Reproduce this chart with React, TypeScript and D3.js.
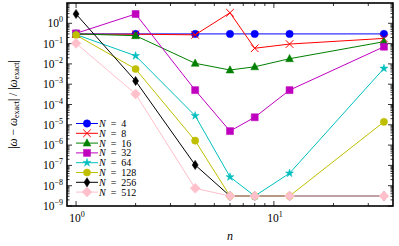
import React from 'react';
import * as d3 from 'd3';

const nValues = [1, 2, 4, 6, 8, 12, 36];

const errN4 = [0.3, 0.3, 0.3, 0.3, 0.3, 0.3, 0.3];
const errN8 = [0.29, 0.29, 0.27, 3.3, 0.059, 0.095, 0.18];
const errN16 = [0.3, 0.245, 0.0107, 0.005, 0.0072, 0.018, 0.124];
const errN32 = [0.32, 2.87, 5.1e-4, 4.9e-6, 2.35e-5, 5.1e-4, 0.07];
const errN64 = [0.28, 0.025, 2.8e-5, 2.7e-8, 3.1e-9, 4.1e-8, 0.006];
const errN128 = [0.265, 0.0056, 1.65e-6, 3.1e-9, 3.1e-9, 3.1e-9, 1.4e-5];
const errN256 = [2.87, 1.44e-3, 1.05e-7, 3.1e-9, 3.1e-9, 3.1e-9, 3.1e-9];
const errN512 = [0.103, 3.3e-4, 7.4e-9, 3.1e-9, 3.1e-9, 3.1e-9, 3.1e-9];

const seriesLabels = ['4', '8', '16', '32', '64', '128', '256', '512'];
const seriesValues = [errN4, errN8, errN16, errN32, errN64, errN128, errN256, errN512];
const seriesColors = ['#0000ff', '#ff0000', '#008000', '#bf00bf', '#00bfbf', '#bfbf00', '#000000', '#ffc0cb'];
const seriesMarkers = ['circle', 'x', 'triangle', 'square', 'star', 'hexagon', 'thindiamond', 'diamond'];

const yTickExps = [-9, -8, -7, -6, -5, -4, -3, -2, -1, 0];
const xTickExps = [0, 1];

const W = 399;
const H = 246;
const M = { left: 67, right: 393, top: 3, bottom: 206 };
const FONT = '"Liberation Serif", "DejaVu Serif", serif';

const x = d3.scaleLog().domain([0.9, 40]).range([M.left, M.right]);
const y = d3.scaleLog().domain([1e-9, 10]).range([M.bottom, M.top]);

function markerPath(kind: string): string {
    switch (kind) {
        case 'circle':
            return d3.symbol(d3.symbolCircle, Math.PI * 3.7 * 3.7)()!;
        case 'square':
            return 'M-3.5,-3.5L3.5,-3.5L3.5,3.5L-3.5,3.5Z';
        case 'triangle':
            return 'M0,-4.3L3.9,3L-3.9,3Z';
        case 'star':
            return d3.symbol(d3.symbolStar, 20)()!;
        case 'hexagon':
            return d3.symbol(d3.symbolCircle, Math.PI * 3.6 * 3.6)()!;
        case 'thindiamond':
            return 'M0,-4.6L3,0L0,4.6L-3,0Z';
        case 'diamond':
            return 'M0,-5L5,0L0,5L-5,0Z';
        default:
            return '';
    }
}

function Marker({ kind, color, cx, cy }: { kind: string; color: string; cx: number; cy: number }) {
    if (kind === 'x') {
        const s = 3.8;
        return (
            <path
                transform={`translate(${cx},${cy})`}
                d={`M${-s},${-s}L${s},${s}M${-s},${s}L${s},${-s}`}
                stroke={color}
                strokeWidth={1}
                fill="none"
            />
        );
    }
    return <path transform={`translate(${cx},${cy})`} d={markerPath(kind)} fill={color} stroke={color} strokeWidth={0.5} />;
}

function Pow10({ exp, px, py, anchor }: { exp: number; px: number; py: number; anchor: 'middle' | 'end' }) {
    const sup = exp < 0 ? `\u2212${-exp}` : `${exp}`;
    return (
        <text x={px} y={py} textAnchor={anchor} fontFamily={FONT} fontSize={11.5} fill="#000">
            10
            <tspan fontSize={8} dy={-5}>
                {sup}
            </tspan>
        </text>
    );
}

export default function App() {
    const line = d3
        .line<[number, number]>()
        .x((d) => x(d[0]))
        .y((d) => y(d[1]));

    const xMinor: number[] = [];
    for (const e of [0, 1]) {
        for (let k = 2; k <= 9; k++) {
            const v = k * Math.pow(10, e);
            if (v < 40) xMinor.push(v);
        }
    }
    const yMinor: number[] = [];
    for (const e of yTickExps) {
        for (let k = 2; k <= 9; k++) yMinor.push(k * Math.pow(10, e));
    }

    const legendX = 76;
    const legendY0 = 123.5;
    const legendStep = 9.8;

    return (
        <svg width={W} height={H} style={{ position: 'absolute', left: 0, top: 0 }}>
            <rect width={W} height={H} fill="#fff" />
            <defs>
                <clipPath id="plot">
                    <rect x={M.left} y={M.top} width={M.right - M.left} height={M.bottom - M.top} />
                </clipPath>
            </defs>

            {/* ticks on all four sides, pointing in */}
            <g stroke="#000" strokeWidth={0.8}>
                {xTickExps.map((e) => {
                    const px = x(Math.pow(10, e));
                    return (
                        <g key={`xM${e}`}>
                            <line x1={px} x2={px} y1={M.bottom} y2={M.bottom - 5} />
                            <line x1={px} x2={px} y1={M.top} y2={M.top + 5} />
                        </g>
                    );
                })}
                {xMinor.map((v) => {
                    const px = x(v);
                    return (
                        <g key={`xm${v}`}>
                            <line x1={px} x2={px} y1={M.bottom} y2={M.bottom - 3} />
                            <line x1={px} x2={px} y1={M.top} y2={M.top + 3} />
                        </g>
                    );
                })}
                {yTickExps.map((e) => {
                    const py = y(Math.pow(10, e));
                    return (
                        <g key={`yM${e}`}>
                            <line x1={M.left} x2={M.left + 5} y1={py} y2={py} />
                            <line x1={M.right} x2={M.right - 5} y1={py} y2={py} />
                        </g>
                    );
                })}
                {yMinor.map((v) => {
                    const py = y(v);
                    return (
                        <g key={`ym${v}`}>
                            <line x1={M.left} x2={M.left + 2.5} y1={py} y2={py} />
                            <line x1={M.right} x2={M.right - 2.5} y1={py} y2={py} />
                        </g>
                    );
                })}
            </g>

            {/* series */}
            <g clipPath="url(#plot)">
                {seriesValues.map((vals, i) => {
                    const pts = nValues.map((n, j) => [n, vals[j]] as [number, number]);
                    return (
                        <g key={seriesLabels[i]}>
                            <path d={line(pts)!} fill="none" stroke={seriesColors[i]} strokeWidth={1} />
                            {pts.map((p, j) => (
                                <Marker key={j} kind={seriesMarkers[i]} color={seriesColors[i]} cx={x(p[0])} cy={y(p[1])} />
                            ))}
                        </g>
                    );
                })}
            </g>

            {/* frame */}
            <rect
                x={M.left}
                y={M.top}
                width={M.right - M.left}
                height={M.bottom - M.top}
                fill="none"
                stroke="#000"
                strokeWidth={1.6}
            />

            {/* tick labels */}
            {xTickExps.map((e) => (
                <Pow10 key={`xl${e}`} exp={e} px={x(Math.pow(10, e)) + 1} py={222} anchor="middle" />
            ))}
            {yTickExps.map((e) => (
                <Pow10 key={`yl${e}`} exp={e} px={63} py={y(Math.pow(10, e)) + 4} anchor="end" />
            ))}

            {/* axis labels */}
            <text x={(M.left + M.right) / 2} y={240} textAnchor="middle" fontFamily={FONT} fontStyle="italic" fontSize={12}>
                n
            </text>
            <text
                transform={`translate(17,${(M.top + M.bottom) / 2}) rotate(-90)`}
                textAnchor="middle"
                fontFamily={FONT}
                fontSize={11.5}
            >
                |<tspan fontStyle="italic">ω</tspan> − <tspan fontStyle="italic">ω</tspan>
                <tspan fontSize={8} dy={2}>exact</tspan>
                <tspan dy={-2}>| / |</tspan>
                <tspan fontStyle="italic">ω</tspan>
                <tspan fontSize={8} dy={2}>exact</tspan>
                <tspan dy={-2}>|</tspan>
            </text>

            {/* legend */}
            {seriesLabels.map((lab, i) => {
                const ly = legendY0 + i * legendStep;
                return (
                    <g key={`lg${lab}`}>
                        <line x1={legendX} x2={legendX + 22} y1={ly} y2={ly} stroke={seriesColors[i]} strokeWidth={1} />
                        <Marker kind={seriesMarkers[i]} color={seriesColors[i]} cx={legendX + 11} cy={ly} />
                        <text x={legendX + 23} y={ly + 3.5} fontFamily={FONT} fontSize={10}>
                            <tspan fontStyle="italic">N</tspan>
                            <tspan dx={5}>=</tspan>
                            <tspan dx={5}>{lab}</tspan>
                        </text>
                    </g>
                );
            })}
        </svg>
    );
}
